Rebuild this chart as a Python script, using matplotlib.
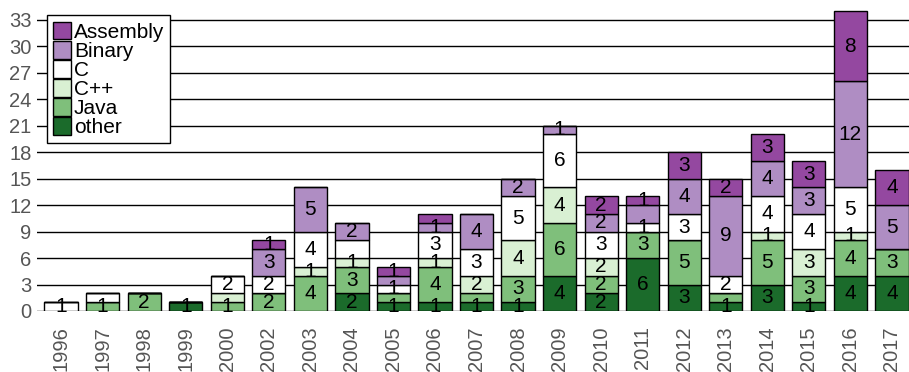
import numpy as np
from matplotlib import pyplot as plt
from matplotlib.patches import Patch

plt.rcParams['font.family'] = ['Liberation Sans', 'DejaVu Sans']

# Datos
years = ['1996', '1997', '1998', '1999', '2000', '2002', '2003', '2004', '2005', '2006', '2007',
         '2008', '2009', '2010', '2011', '2012', '2013', '2014', '2015', '2016', '2017']
other = [0, 0, 0, 1, 0, 0, 0, 2, 1, 1, 1, 1, 4, 2, 6, 3, 1, 3, 1, 4, 4]
java = [0, 1, 2, 0, 1, 2, 4, 3, 1, 4, 1, 3, 6, 2, 3, 5, 1, 5, 3, 4, 3]
cpp = [0, 0, 0, 0, 1, 0, 1, 1, 0, 1, 2, 4, 4, 2, 0, 0, 0, 1, 3, 1, 0]
c = [1, 1, 0, 0, 2, 2, 4, 2, 1, 3, 3, 5, 6, 3, 1, 3, 2, 4, 4, 5, 0]
binary = [0, 0, 0, 0, 0, 3, 5, 2, 1, 1, 4, 2, 1, 2, 2, 4, 9, 4, 3, 12, 5]
assembly = [0, 0, 0, 0, 0, 1, 0, 0, 1, 1, 0, 0, 0, 2, 1, 3, 2, 3, 3, 8, 4]

series = ['other', 'Java', 'C++', 'C', 'Binary', 'Assembly']
values = [other, java, cpp, c, binary, assembly]
colors = ['#1b6b2b', '#7fbf7b', '#d9f0d3', '#ffffff', '#af8dc3', '#9448a0']

# etiquetas que no aparecen en el original
hidden = [('1997', 'C'), ('2000', 'C++'), ('2004', 'C'), ('2007', 'Java'),
          ('2011', 'Binary'), ('2013', 'Java'), ('2005', 'Java'), ('2005', 'Binary'),
          ('2006', 'Assembly')]

fig = plt.figure(figsize=(9.09, 3.72), dpi=100)
ax = fig.add_axes([37 / 909, 1 - 311 / 372, 1 - 37 / 909, (311 - 9) / 372])

x = np.arange(len(years))
bottom = np.zeros(len(years))
for name, vals, col in zip(series, values, colors):
    vals = np.array(vals)
    ax.bar(x, vals, 0.8, bottom=bottom, color=col, edgecolor='black', linewidth=1, zorder=3)
    for i, v in enumerate(vals):
        if v > 0 and (years[i], name) not in hidden:
            ax.text(x[i], bottom[i] + v / 2, str(v), ha='center', va='center',
                    fontsize=15, color='black', zorder=4)
    bottom += vals

ax.set_xlim(-0.58, 20.41)
ax.set_ylim(0, 34.2)
ax.set_yticks(range(0, 34, 3))
ax.yaxis.grid(True, color='black', linewidth=1, zorder=0)
ax.set_axisbelow(True)
for s in ax.spines.values():
    s.set_visible(False)
ax.set_xticks(x)
ax.set_xticklabels(years, rotation=90)
ax.tick_params(axis='both', length=0, labelsize=14.5, labelcolor='#555555')
ax.tick_params(axis='x', pad=11)
ax.tick_params(axis='y', pad=4)

handles = [Patch(facecolor=col, edgecolor='black', linewidth=1) for col in colors[::-1]]
leg = ax.legend(handles, series[::-1], loc='upper left', bbox_to_anchor=(0.004, 1.0),
                fontsize=15, frameon=True, fancybox=False, edgecolor='black',
                framealpha=1, labelspacing=-0.05, handlelength=0.85, handleheight=0.95,
                handletextpad=0.15, borderpad=0.3, borderaxespad=0.3)
leg.get_frame().set_linewidth(1)
leg.set_zorder(5)

plt.savefig('out.png', dpi=100)
